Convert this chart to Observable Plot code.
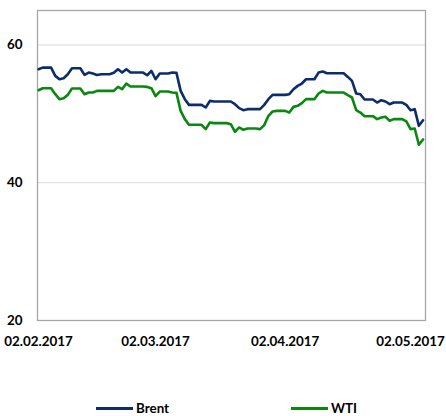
<!DOCTYPE html>
<html>
<head>
<meta charset="utf-8">
<script src="https://cdn.jsdelivr.net/npm/d3@7"></script>
<script src="https://cdn.jsdelivr.net/npm/@observablehq/plot@0.6"></script>
<style>
  html, body { margin: 0; padding: 0; background: #fff; }
  #wrap { position: relative; width: 446px; height: 416px; overflow: hidden; font-family: Lato, "Liberation Sans", sans-serif; font-weight: 700; }
  #chart svg { display: block; }
  .leg { position: absolute; top: 401px; height: 14px; display: flex; align-items: center; font-size: 13.4px; color: #000; line-height: 14px; }
  .sw { width: 37px; height: 3px; margin-right: 3px; }
</style>
</head>
<body>
<div id="wrap">
  <div id="chart"></div>
  <div id="legend"></div>
</div>
<script>
// Daily series starting 02.02.2017 (weekend days carry the previous close)
const startDate = Date.UTC(2017, 1, 2);
const seriesNames = ["Brent", "WTI"];
const seriesColors = ["#0c2c6c", "#0a870f"];
const brent = [
  56.47, 56.71, 56.71, 56.71, 55.51, 55.02, 55.17, 55.75, 56.62, 56.62,
  56.62, 55.65, 55.99, 55.85, 55.65, 55.75, 55.75, 55.75, 55.95, 56.47,
  55.99, 56.47, 55.99, 55.99, 55.99, 55.99, 55.60, 56.23, 55.02, 55.85,
  55.85, 55.85, 55.99, 55.94, 53.33, 52.13, 51.30, 51.30, 51.30, 51.30,
  50.92, 51.88, 51.79, 51.79, 51.79, 51.79, 51.79, 51.40, 50.82, 50.53,
  50.68, 50.68, 50.68, 50.68, 51.30, 52.13, 52.75, 52.75, 52.75, 52.75,
  52.85, 53.57, 54.06, 54.40, 55.02, 55.02, 55.02, 55.99, 56.14, 55.89,
  55.89, 55.89, 55.89, 55.89, 55.36, 54.78, 52.95, 52.85, 52.08, 52.08,
  52.08, 51.64, 51.98, 51.79, 51.40, 51.64, 51.64, 51.64, 51.30, 50.53,
  50.68, 48.26, 49.08
];
const wti = [
  53.43, 53.72, 53.72, 53.72, 52.85, 52.13, 52.27, 52.75, 53.67, 53.67,
  53.67, 52.85, 53.09, 53.09, 53.33, 53.33, 53.33, 53.33, 53.33, 53.91,
  53.57, 54.40, 53.96, 53.96, 53.96, 53.96, 53.91, 53.72, 52.56, 53.24,
  53.24, 53.24, 53.09, 53.04, 50.43, 49.23, 48.41, 48.41, 48.41, 48.41,
  47.78, 48.74, 48.65, 48.65, 48.65, 48.65, 48.50, 47.39, 48.02, 47.68,
  47.87, 47.87, 47.87, 47.78, 48.36, 49.71, 50.34, 50.43, 50.43, 50.43,
  50.19, 51.01, 51.16, 51.55, 52.13, 52.13, 52.13, 52.95, 53.33, 53.09,
  53.09, 53.09, 53.09, 53.09, 52.71, 52.37, 50.53, 50.19, 49.66, 49.66,
  49.66, 49.23, 49.47, 49.57, 48.99, 49.23, 49.23, 49.23, 48.89, 47.78,
  47.87, 45.51, 46.28
];
const xTickDates = ["2017-02-02", "2017-03-02", "2017-04-02", "2017-05-02"];
const yTicks = [20, 40, 60];
const gridValues = [40, 60];

const rows = [];
[brent, wti].forEach((vals, s) => {
  vals.forEach((v, i) => rows.push({ date: new Date(startDate + i * 864e5), value: v, series: seriesNames[s] }));
});

const fmt = d3.utcFormat("%d.%m.%Y");

const chart = Plot.plot({
  width: 446,
  height: 396,
  marginTop: 10,
  marginBottom: 76,
  marginLeft: 37,
  marginRight: 21,
  style: { fontFamily: "Lato, 'Liberation Sans', sans-serif", fontWeight: 700, fontSize: "13.4px", color: "#000", background: "#fff" },
  x: { type: "utc", label: null, domain: [new Date(Date.UTC(2017, 1, 1, 18)), new Date(Date.UTC(2017, 4, 5, 14))] },
  y: { label: null, domain: [20, 65] },
  color: { domain: seriesNames, range: seriesColors },
  marks: [
    Plot.ruleY(gridValues, { stroke: "#d9d9d9", strokeWidth: 1 }),
    Plot.frame({ stroke: "#a6a6a6", strokeWidth: 1.3 }),
    Plot.line(rows, { x: "date", y: "value", z: "series", stroke: "series", strokeWidth: 2.6 }),
    Plot.axisX(xTickDates.map(s => new Date(s + "T00:00:00Z")), { label: null, tickSize: 0, tickPadding: 16, tickFormat: fmt, fontWeight: 700, fontSize: 13.4, fill: "#000" }),
    Plot.axisY(yTicks, { label: null, tickSize: 0, tickPadding: 15, fontWeight: 700, fontSize: 13.4, fill: "#000" })
  ]
});
document.getElementById("chart").appendChild(chart);

const legend = document.getElementById("legend");
const legendLefts = [96, 291];
seriesNames.forEach((name, i) => {
  const item = document.createElement("div");
  item.className = "leg";
  item.style.left = legendLefts[i] + "px";
  const sw = document.createElement("span");
  sw.className = "sw";
  sw.style.background = seriesColors[i];
  const t = document.createElement("span");
  t.textContent = name;
  item.appendChild(sw);
  item.appendChild(t);
  legend.appendChild(item);
});
</script>
</body>
</html>
